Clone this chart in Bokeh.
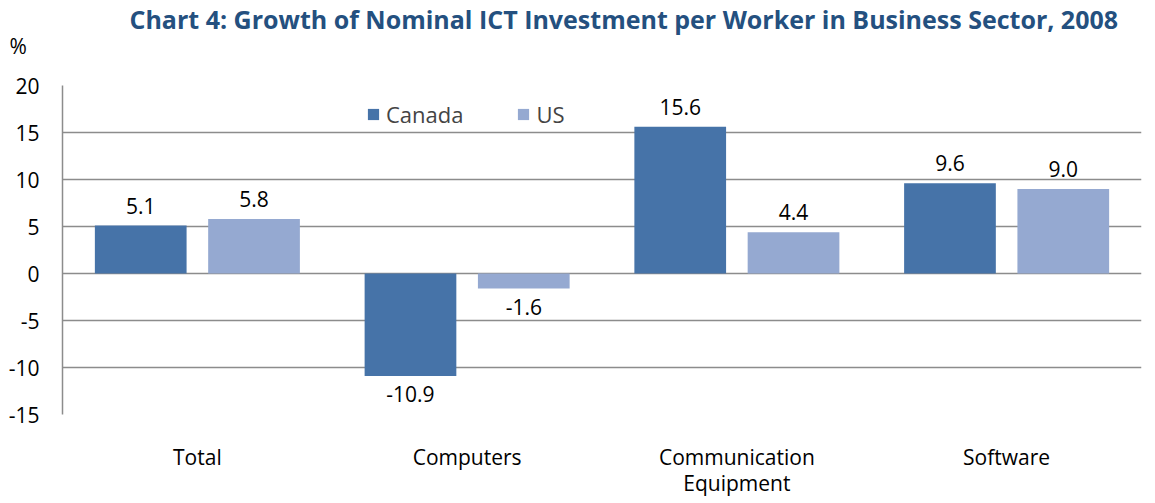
from bokeh.plotting import figure
from bokeh.models import (ColumnDataSource, FactorRange, FixedTicker, Legend, LegendItem, Title)
from bokeh.transform import dodge
from bokeh.embed import file_html
from bokeh.resources import INLINE
from bokeh.core.properties import value

categories = ["Total", "Computers", "Communication\nEquipment", "Software"]
canada = [5.1, -10.9, 15.6, 9.6]
us = [5.8, -1.6, 4.4, 9.0]
series_names = ["Canada", "US"]
y_ticks = [-15, -10, -5, 0, 5, 10, 15, 20]
title_text = "Chart 4: Growth of Nominal ICT Investment per Worker in Business Sector, 2008"
unit_text = "%"

FONT = "Open Sans"
C_CAN = "#4673A8"
C_US = "#95A9D1"
GRID = "#8C8C8C"

src = ColumnDataSource(dict(cat=categories, canada=canada, us=us))

p = figure(frame_width=1079, frame_height=329, x_range=FactorRange(*categories, range_padding=0),
           y_range=(-15, 20), output_backend="svg", toolbar_location=None,
           min_border_left=62, min_border_right=1, min_border_top=85, min_border_bottom=76)
p.outline_line_color = None
p.background_fill_color = "white"

r1 = p.vbar(x=dodge("cat", -0.21, range=p.x_range), top="canada", bottom=0, width=0.34,
            source=src, fill_color=C_CAN, line_color=None)
r2 = p.vbar(x=dodge("cat", 0.21, range=p.x_range), top="us", bottom=0, width=0.34,
            source=src, fill_color=C_US, line_color=None)

# data labels
for i, vals in enumerate([canada, us]):
    off = -0.21 if i == 0 else 0.21
    pos = [k for k, v in enumerate(vals) if v >= 0]
    neg = [k for k, v in enumerate(vals) if v < 0]
    for idxs, base, yoff in [(pos, "bottom", -12), (neg, "top", 10)]:
        if not idxs:
            continue
        s = ColumnDataSource(dict(cat=[categories[k] for k in idxs], v=[vals[k] for k in idxs],
                                  t=["%.1f" % vals[k] for k in idxs]))
        p.text(x=dodge("cat", off, range=p.x_range), y="v", text="t", source=s,
               text_align="center", text_baseline=base, y_offset=yoff,
               text_font=value(FONT), text_font_size="21px", text_color="black")

# axes
p.yaxis.ticker = FixedTicker(ticks=y_ticks)
p.yaxis.major_label_overrides = {t: str(t) for t in y_ticks}
p.yaxis.major_tick_line_color = None
p.yaxis.minor_tick_line_color = None
p.yaxis.axis_line_color = GRID
p.yaxis.axis_line_width = 1.5
p.yaxis.major_label_text_font = FONT
p.yaxis.major_label_text_font_size = "21px"
p.yaxis.major_label_text_color = "black"
p.yaxis.major_label_standoff = 17

p.xaxis.axis_line_color = None
p.xaxis.major_tick_line_color = None
p.xaxis.minor_tick_line_color = None
p.xaxis.major_label_text_font = FONT
p.xaxis.major_label_text_font_size = "21px"
p.xaxis.major_label_text_line_height = 0.95
p.xaxis.major_label_text_color = "black"
p.xaxis.major_label_standoff = 22

p.xgrid.grid_line_color = None
p.ygrid.grid_line_color = GRID
p.ygrid.grid_line_width = 1.5

legend = Legend(items=[LegendItem(label=series_names[0], renderers=[r1]),
                       LegendItem(label=series_names[1], renderers=[r2])],
                orientation="horizontal", location=(304, 285),
                background_fill_alpha=0, border_line_color=None,
                label_text_font=FONT, label_text_font_size="22px",
                glyph_width=14, glyph_height=14, spacing=53, padding=0, margin=0,
                label_standoff=6)
p.add_layout(legend, "center")

p.title.text = title_text
p.title.align = "left"
p.title.offset = 67
p.title.standoff = -65
p.title.text_font = FONT
p.title.text_font_style = "bold"
p.title.text_font_size = "25px"
p.title.text_color = "#24507F"

p.add_layout(Title(text=unit_text, align="left", offset=-53, standoff=52, text_font=FONT,
                   text_font_style="normal", text_font_size="21px", text_color="black"), "above")

open("out.html", "w").write(file_html(p, INLINE))
